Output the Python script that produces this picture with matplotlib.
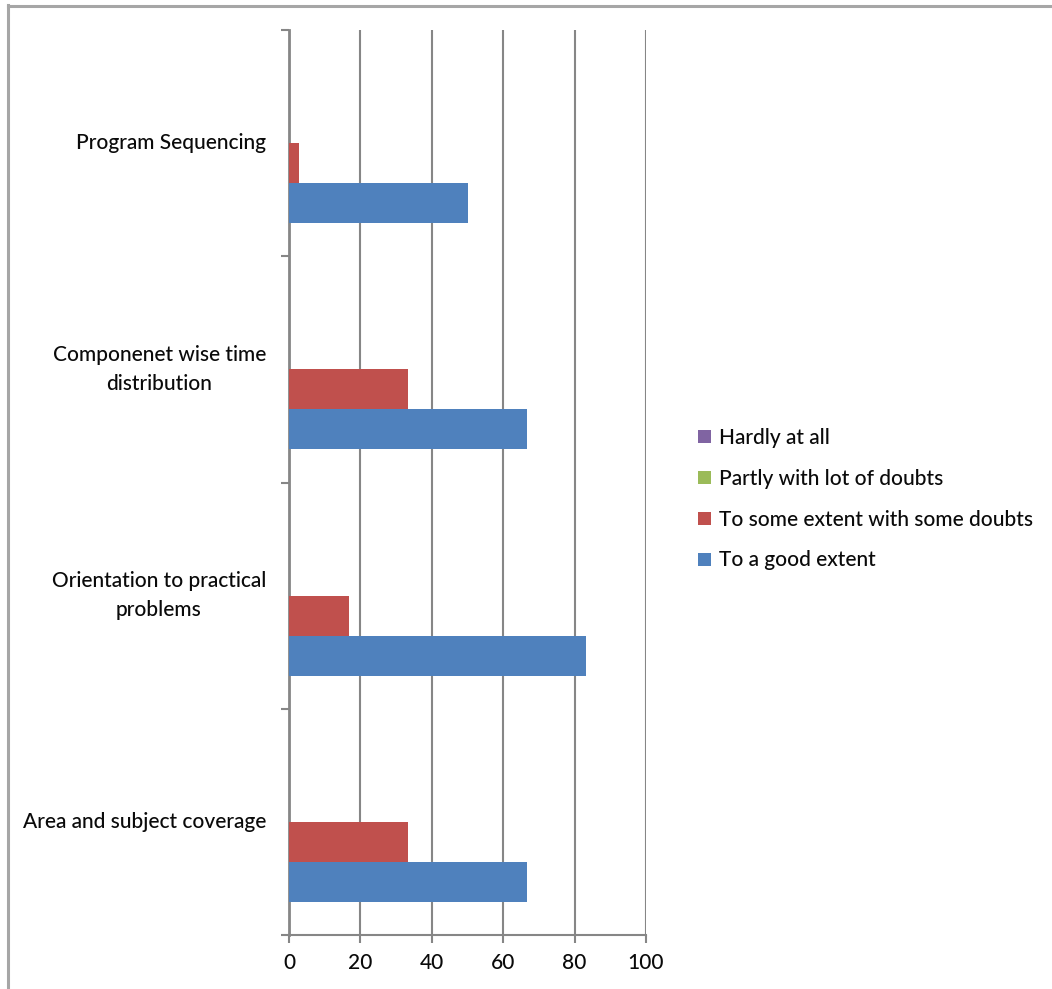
import numpy as np
import matplotlib
matplotlib.use("Agg")
import matplotlib.pyplot as plt
from matplotlib.patches import Patch
from matplotlib.lines import Line2D

plt.rcParams['font.family'] = ['Lato', 'DejaVu Sans']

# data (bottom to top, as drawn)
categories = ["Area and subject coverage",
              "Orientation to practical\nproblems",
              "Componenet wise time\ndistribution",
              "Program Sequencing"]
series_names = ["To a good extent", "To some extent with some doubts",
                "Partly with lot of doubts", "Hardly at all"]
good_extent = [66.7, 83.3, 66.7, 50.0]
some_doubts = [33.3, 16.7, 33.3, 2.8]
lot_of_doubts = [0, 0, 0, 0]
hardly = [0, 0, 0, 0]
colors = ["#4F81BD", "#C0504D", "#9BBB59", "#8064A2"]
xticks = [0, 20, 40, 60, 80, 100]

FS = 15
TXT = '#0a0a0a'
W = 'medium'

fig = plt.figure(figsize=(10.52, 9.89), dpi=100)
ax = fig.add_axes([289/1052, 1-935/989, 357/1052, 905/989])

y = np.arange(len(categories))
h = 0.177
all_series = [good_extent, some_doubts, lot_of_doubts, hardly]
for k, (vals, c, name) in enumerate(zip(all_series, colors, series_names)):
    ax.barh(y + (k - 1.5) * h, vals, height=h, color=c, label=name, zorder=3)

ax.set_xlim(0, 100)
ax.set_ylim(-0.5, 3.5)
ax.set_xticks(xticks)
ax.set_xticklabels([str(v) for v in xticks], fontsize=FS, color=TXT, fontweight=W)
ax.set_yticks(np.arange(-0.5, 4.0, 1.0))
ax.set_yticklabels([])
ax.tick_params(axis='x', length=6, width=1.5, color='#868686', pad=7)
ax.tick_params(axis='y', length=6, width=1.5, color='#868686')
ax.grid(axis='x', color='#868686', linewidth=1.5, zorder=0)
for s in ['top', 'right']:
    ax.spines[s].set_visible(False)
ax.spines['left'].set_color('#868686')
ax.spines['left'].set_linewidth(2)
ax.spines['bottom'].set_color('#868686')
ax.spines['bottom'].set_linewidth(1.5)

for yi, lab in zip(y, categories):
    ax.text(-0.064, yi, lab, transform=ax.get_yaxis_transform(),
            ha='right', va='center', multialignment='center',
            fontsize=FS, color=TXT, fontweight=W, linespacing=1.55)

handles = [Patch(facecolor=c, edgecolor='none') for c in colors][::-1]
labels = series_names[::-1]
fig.legend(handles, labels, loc='upper left', bbox_to_anchor=(698/1052, 1-428/989),
           frameon=False, prop={'size': FS, 'weight': W}, handlelength=0.6,
           handleheight=0.6, handletextpad=0.4, labelspacing=1.0, borderpad=0,
           borderaxespad=0, labelcolor=TXT)

# outer chart border (left and top visible)
fig.add_artist(Line2D([7.5/1052, 7.5/1052], [0, 1-5/989], color='#a6a6a6', lw=2.2,
                      transform=fig.transFigure))
fig.add_artist(Line2D([7.5/1052, 1], [1-5.5/989, 1-5.5/989], color='#a6a6a6', lw=2.2,
                      transform=fig.transFigure))

fig.savefig("out.png", dpi=100, facecolor='white')
